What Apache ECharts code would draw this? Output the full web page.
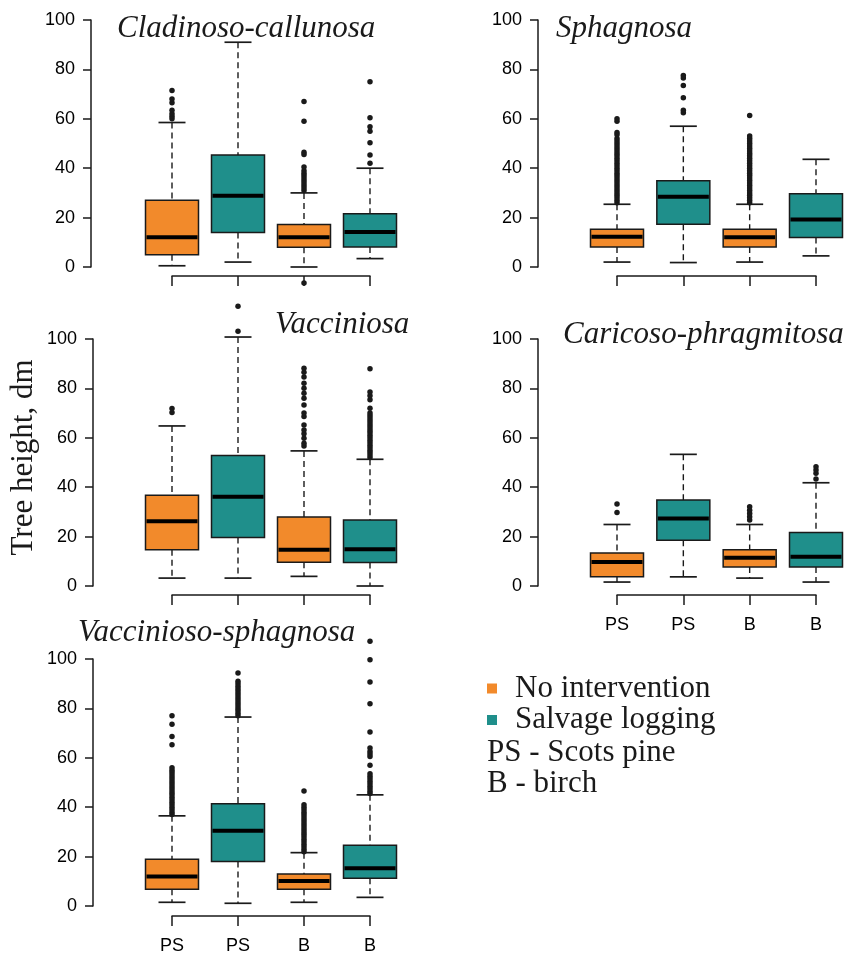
<!DOCTYPE html>
<html>
<head>
<meta charset="utf-8">
<script src="https://cdn.jsdelivr.net/npm/echarts@6/dist/echarts.min.js"></script>
<style>
html,body{margin:0;padding:0;background:#fff;}
#chart{width:852px;height:956px;}
</style>
</head>
<body>
<div id="chart"></div>
<script>
// ---------------- data ----------------
const categories = ['PS', 'PS', 'B', 'B'];
const treatments = ['No intervention', 'Salvage logging'];
const panelTitles = ['Cladinoso-callunosa', 'Sphagnosa', 'Vacciniosa', 'Caricoso-phragmitosa', 'Vaccinioso-sphagnosa'];
const yTicks = [0, 20, 40, 60, 80, 100];
const notes = ['PS - Scots pine', 'B - birch'];
const yName = 'Tree height, dm';

// box stats per group: [lower whisker, Q1, median, Q3, upper whisker]
const cladBoxes = [
  [0.5, 5, 12, 27, 58.5],
  [2, 14, 28.8, 45.3, 91],
  [0, 8, 12, 17.2, 30],
  [3.4, 8.1, 14.2, 21.6, 40]
];
const cladOutliers = [
  [60, 61, 62, 63.5, 66.5, 68, 71.5],
  [],
  [-6.5, 31, 32, 33, 34, 35, 36, 37, 38, 39, 40.5, 45.5, 46.5, 59, 67],
  [42, 45.3, 50.3, 55, 56.8, 60.4, 75]
];

const sphagBoxes = [
  [2, 8.1, 12.2, 15.3, 25.4],
  [1.8, 17.3, 28.4, 34.9, 57],
  [2, 8.1, 12, 15.3, 25.4],
  [4.5, 11.9, 19.2, 29.7, 43.6]
];
const sphagOutliers = [
  [26, 27, 28, 29, 30, 31, 32, 33, 34, 35, 36, 37, 38, 39, 40, 41, 42, 43, 44, 45, 46, 47, 48, 49, 50, 51, 52, 53.5, 54.5, 59, 60],
  [62.5, 63.5, 68.5, 73.5, 76.5, 77.5],
  [26, 27, 28, 29, 30, 31, 32, 33, 34, 35, 36, 37, 38, 39, 40, 41, 42, 43, 44, 45, 46, 47, 48, 49, 50, 51, 52, 53, 61.3],
  []
];

const vaccBoxes = [
  [3.2, 14.7, 26.2, 36.7, 64.8],
  [3.2, 19.6, 36.1, 52.8, 100.8],
  [3.9, 9.6, 14.7, 27.9, 54.7],
  [0, 9.5, 14.9, 26.7, 51.3]
];
const vaccOutliers = [
  [70.2, 71.9],
  [103.1, 113.3],
  [56.7, 57.8, 59.8, 61.6, 63.2, 65.2, 68.6, 70, 73.3, 76, 78, 80.1, 82.1, 84.6, 86.5, 88.2],
  [52, 53, 54, 55, 56, 57, 58, 59, 60, 61, 62, 63, 64, 65, 66, 67, 68, 69, 70, 72, 75.4, 77, 78.5, 88]
];

const caricBoxes = [
  [1.6, 3.7, 9.7, 13.4, 24.9],
  [3.7, 18.5, 27.3, 34.8, 53.3],
  [3.2, 7.7, 11.4, 14.7, 24.9],
  [1.6, 7.7, 11.8, 21.7, 41.8]
];
const caricOutliers = [
  [29.8, 33.2],
  [],
  [26.7, 28, 29.4, 30.7, 32.1],
  [43.3, 45.6, 47, 48.3]
];

const vsphBoxes = [
  [1.5, 6.8, 11.9, 18.9, 36.5],
  [1.1, 18, 30.5, 41.4, 76.5],
  [1.5, 6.8, 10.1, 13, 21.6],
  [3.5, 11.2, 15.3, 24.6, 45]
];
const vsphOutliers = [
  [37, 38, 39, 40, 41, 42, 43, 44, 45, 46, 47, 48, 49, 50, 51, 52, 53, 54, 55, 56, 65.3, 68.6, 73.6, 77],
  [77, 78, 79, 80, 81, 82, 83, 84, 85, 86, 87, 88, 89, 90, 91, 94.3],
  [22, 23, 24, 25, 26, 27, 28, 29, 30, 31, 32, 33, 34, 35, 36, 37, 38, 39, 40, 41, 46.6],
  [45.5, 46.5, 47.5, 48.5, 49.5, 50.5, 51.5, 52.5, 53.5, 57, 60.5, 61.5, 62.6, 64, 70.4, 81.9, 90.7, 99.7, 107.2]
];

// ---------------- layout / style ----------------
const ORANGE = '#F28A2B';
const TEAL = '#1F8F8B';
const INK = '#1a1a1a';
const TITLE_FS = 31;
const panels = [
  { boxes: cladBoxes, outs: cladOutliers, grid: { left: 172, top: 20, width: 198, height: 247 }, yOff: 81, xOff: 9, labels: false, title: { left: 117, top: 13 } },
  { boxes: sphagBoxes, outs: sphagOutliers, grid: { left: 617, top: 20, width: 199, height: 247 }, yOff: 79, xOff: 9, labels: false, title: { left: 556, top: 13 } },
  { boxes: vaccBoxes, outs: vaccOutliers, grid: { left: 172, top: 339, width: 198, height: 247 }, yOff: 79, xOff: 9, labels: false, title: { left: 275, top: 309 }, yName: true },
  { boxes: caricBoxes, outs: caricOutliers, grid: { left: 617, top: 339, width: 199, height: 247 }, yOff: 79, xOff: 9, labels: true, title: { left: 563, top: 319 } },
  { boxes: vsphBoxes, outs: vsphOutliers, grid: { left: 172, top: 659, width: 198, height: 247 }, yOff: 79, xOff: 10, labels: true, title: { left: 78, top: 617 } }
];

function renderBox(params, api) {
  const x = api.value(0);
  const lo = api.coord([x, api.value(1)]);
  const q1 = api.coord([x, api.value(2)]);
  const md = api.coord([x, api.value(3)]);
  const q3 = api.coord([x, api.value(4)]);
  const hi = api.coord([x, api.value(5)]);
  const cx = lo[0];
  const hw = 26.5, cw = 13.5;
  const color = api.visual('color');
  const dash = { stroke: INK, lineWidth: 1.4, lineDash: [6, 4] };
  const solid = { stroke: INK, lineWidth: 1.7 };
  return {
    type: 'group',
    children: [
      { type: 'line', shape: { x1: cx, y1: hi[1], x2: cx, y2: q3[1] }, style: dash },
      { type: 'line', shape: { x1: cx, y1: q1[1], x2: cx, y2: lo[1] }, style: dash },
      { type: 'line', shape: { x1: cx - cw, y1: hi[1], x2: cx + cw, y2: hi[1] }, style: solid },
      { type: 'line', shape: { x1: cx - cw, y1: lo[1], x2: cx + cw, y2: lo[1] }, style: solid },
      { type: 'rect', shape: { x: cx - hw, y: q3[1], width: 2 * hw, height: q1[1] - q3[1] }, style: { fill: color, stroke: INK, lineWidth: 1.5 } },
      { type: 'line', shape: { x1: cx - hw + 1, y1: md[1], x2: cx + hw - 1, y2: md[1] }, style: { stroke: '#000', lineWidth: 4 } }
    ]
  };
}

const grids = [], xAxes = [], yAxes = [], series = [], titles = [];
panels.forEach((p, i) => {
  grids.push(Object.assign({ containLabel: false }, p.grid));
  xAxes.push({
    gridIndex: i, type: 'value', min: 1, max: 4, interval: 1, offset: p.xOff,
    axisLine: { show: true, onZero: false, lineStyle: { color: INK, width: 1.5 } },
    axisTick: { show: true, length: 10, lineStyle: { color: INK, width: 1.5 } },
    axisLabel: { show: p.labels, margin: 21, fontFamily: 'Liberation Sans', fontSize: 18, color: '#000',
      formatter: v => categories[Math.round(v) - 1] || '' },
    splitLine: { show: false }
  });
  const ya = {
    gridIndex: i, type: 'value', min: yTicks[0], max: yTicks[yTicks.length - 1], interval: yTicks[1] - yTicks[0], offset: p.yOff,
    axisLine: { show: true, lineStyle: { color: INK, width: 1.5 } },
    axisTick: { show: true, length: 8, lineStyle: { color: INK, width: 1.5 } },
    axisLabel: { margin: 16, fontFamily: 'Liberation Sans', fontSize: 18, color: '#000' },
    splitLine: { show: false }
  };
  if (p.yName) {
    Object.assign(ya, { name: yName, nameLocation: 'middle', nameRotate: 90, nameGap: 54,
      nameTextStyle: { fontFamily: 'Liberation Serif', fontSize: 31, color: INK, padding: [0, 0, 0, 10] } });
  }
  yAxes.push(ya);
  treatments.forEach((t, k) => {
    const data = [];
    p.boxes.forEach((b, g) => { if (g % 2 === k) data.push([g + 1].concat(b)); });
    series.push({
      name: t, type: 'custom', xAxisIndex: i, yAxisIndex: i,
      itemStyle: { color: k === 0 ? ORANGE : TEAL },
      renderItem: renderBox, clip: false,
      encode: { x: 0, y: [1, 2, 3, 4, 5] },
      data: data, z: 2
    });
  });
  const od = [];
  p.outs.forEach((arr, g) => arr.forEach(v => od.push([g + 1, v])));
  series.push({
    type: 'scatter', xAxisIndex: i, yAxisIndex: i, data: od, clip: false,
    symbolSize: 5.5, itemStyle: { color: INK, opacity: 1 }, z: 3, silent: true
  });
  titles.push({
    text: panelTitles[i], left: p.title.left, top: p.title.top, padding: 0,
    textStyle: { fontFamily: 'Liberation Serif', fontStyle: 'italic', fontWeight: 'normal', fontSize: TITLE_FS, color: INK }
  });
});
notes.forEach((n, j) => {
  titles.push({
    text: n, left: 487, top: 737 + j * 31.5, padding: 0,
    textStyle: { fontFamily: 'Liberation Serif', fontWeight: 'normal', fontSize: 31, color: INK }
  });
});

const chart = echarts.init(document.getElementById('chart'), null, { renderer: 'canvas' });
chart.setOption({
  animation: false,
  backgroundColor: '#fff',
  title: titles,
  grid: grids,
  xAxis: xAxes,
  yAxis: yAxes,
  legend: {
    data: treatments, orient: 'vertical', left: 487, top: 673, padding: 0,
    itemWidth: 10, itemHeight: 10, itemGap: 0.5, icon: 'rect', selectedMode: false,
    textStyle: { fontFamily: 'Liberation Serif', fontSize: 31, color: INK, padding: [0, 0, 0, 13] }
  },
  series: series
});
</script>
</body>
</html>
